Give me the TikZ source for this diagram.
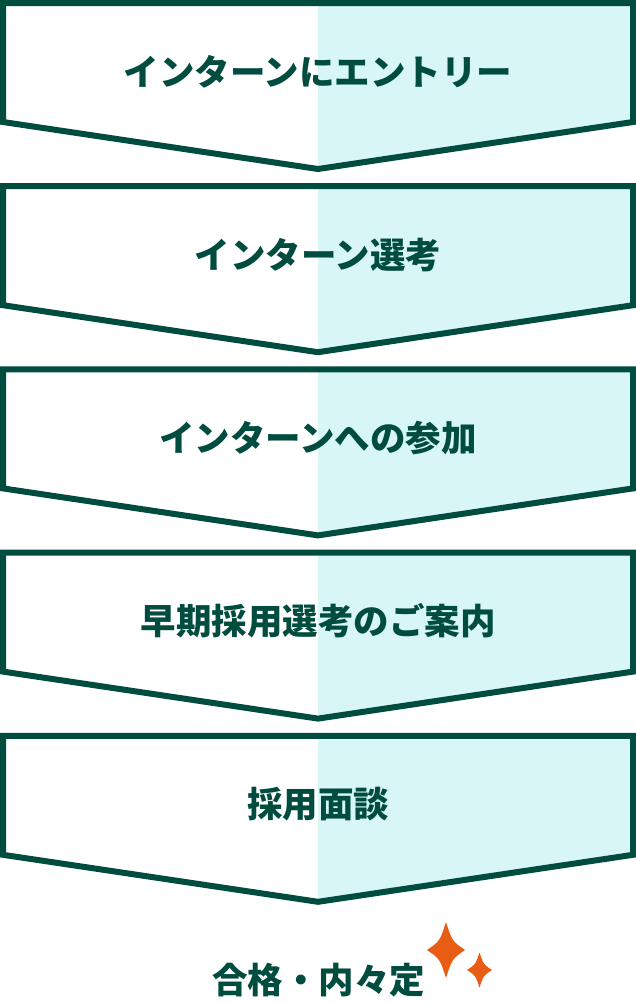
\documentclass[tikz,border=0pt]{standalone}
\usepackage{fontspec}
\newfontfamily\cjk{Noto Sans CJK JP}
\definecolor{dgreen}{HTML}{004D3F}
\definecolor{lcyan}{HTML}{D8F6F6}
\definecolor{spark}{HTML}{E85C14}
\tikzset{
  chev/.style={draw=dgreen, line width=6pt, line join=miter},
  steptext/.style={font=\cjk\bfseries\fontsize{35.5}{40}\selectfont, text=dgreen, inner sep=0pt},
  goaltext/.style={font=\cjk\bfseries\fontsize{35.5}{40}\selectfont, text=dgreen, inner sep=0pt},
}
\newcommand{\chevbox}[3]{%
  \begin{scope}[yshift=-#1pt]
    \begin{scope}
      \clip (318,1) rectangle (640,-175);
      \fill[lcyan] (3,-3) -- (633,-3) -- (633,-122) -- (318,-169) -- (3,-122) -- cycle;
    \end{scope}
    \draw[chev] (3,-3) -- (633,-3) -- (633,-122) -- (318,-169) -- (3,-122) -- cycle;
    \node[steptext] (#3) at (318,-71.5) {#2};
  \end{scope}}
\newcommand{\sparkle}[4]{% cx cy halfw halfh
  \fill[spark] (#1,#2+#4) .. controls (#1+0.32*#3,#2+0.32*#4) .. (#1+#3,#2)
     .. controls (#1+0.32*#3,#2-0.32*#4) .. (#1,#2-#4)
     .. controls (#1-0.32*#3,#2-0.32*#4) .. (#1-#3,#2)
     .. controls (#1-0.32*#3,#2+0.32*#4) .. cycle;}
\begin{document}
\begin{tikzpicture}[x=1pt,y=1pt]
\useasboundingbox (0,0) rectangle (636,-1004);
\fill[white] (0,0) rectangle (636,-1004);
\chevbox{0}{インターンにエントリー}{s1}
\chevbox{183.2}{インターン選考}{s2}
\chevbox{366.4}{インターンへの参加}{s3}
\chevbox{549.6}{早期採用選考のご案内}{s4}
\chevbox{732.8}{採用面談}{s5}
\node[goaltext] (goal) at (318.5,-980.5) {合格・内々定};
\sparkle{446}{-950}{19}{28}
\sparkle{479.5}{-970}{12.5}{17.5}
\end{tikzpicture}
\end{document}
